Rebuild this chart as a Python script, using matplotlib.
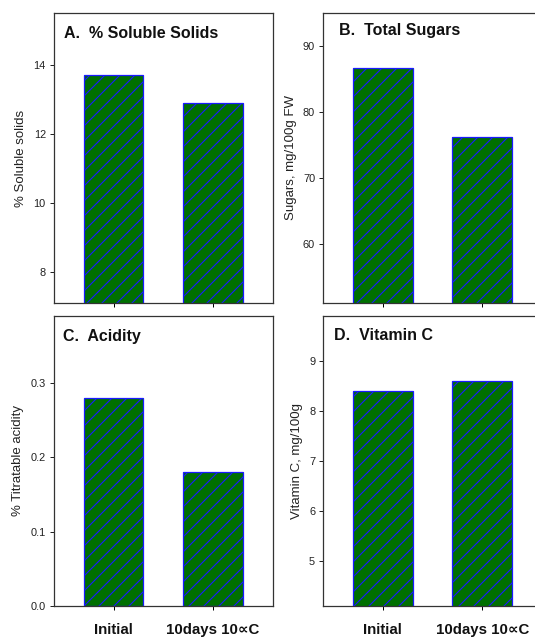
import matplotlib
matplotlib.use("Agg")
import matplotlib.pyplot as plt

plt.rcParams['font.family'] = ['Liberation Sans', 'DejaVu Sans']
plt.rcParams['hatch.linewidth'] = 0.9

categories = ["Initial", "10days 10\u221dC"]
soluble_solids = [13.7, 12.9]
total_sugars = [86.6, 76.2]
acidity = [0.28, 0.18]
vitamin_c = [8.4, 8.6]

panels = [
    dict(vals=soluble_solids, title="A.  % Soluble Solids", ylabel="% Soluble solids",
         ylim=(7.1, 15.5), yticks=[8, 10, 12, 14], fmt="{:g}",
         rect=(54, 13, 272.5, 303), title_pos=(64, 33), show_x=False),
    dict(vals=total_sugars, title="B.  Total Sugars", ylabel="Sugars, mg/100g FW",
         ylim=(51, 95), yticks=[60, 70, 80, 90], fmt="{:g}",
         rect=(323.3, 13, 541.8, 303), title_pos=(339, 30), show_x=False),
    dict(vals=acidity, title="C.  Acidity", ylabel="% Titratable acidity",
         ylim=(0, 0.39), yticks=[0.0, 0.1, 0.2, 0.3], fmt="{:.1f}",
         rect=(54, 315.7, 272.5, 606), title_pos=(63, 336.5), show_x=True),
    dict(vals=vitamin_c, title="D.  Vitamin C", ylabel="Vitamin C, mg/100g",
         ylim=(4.1, 9.9), yticks=[5, 6, 7, 8, 9], fmt="{:g}",
         rect=(323.3, 315.7, 541.8, 606), title_pos=(334, 336), show_x=True),
]

W, H = 535, 639
DPI = 90
fig = plt.figure(figsize=(W / DPI, H / DPI), dpi=DPI)

for p in panels:
    x0, y0, x1, y1 = p["rect"]
    ax = fig.add_axes([x0 / W, 1 - y1 / H, (x1 - x0) / W, (y1 - y0) / H])
    ax.bar(range(len(categories)), p["vals"], width=0.6, color="#007000",
           edgecolor="#1a1aff", linewidth=1.0, hatch="//", zorder=2)
    ax.set_xlim(-0.6, 1.6)
    ax.set_ylim(*p["ylim"])
    ax.set_yticks(p["yticks"])
    ax.set_yticklabels([p["fmt"].format(v) for v in p["yticks"]])
    ax.set_xticks(range(len(categories)))
    if p["show_x"]:
        ax.set_xticklabels(categories, fontweight="bold", fontsize=12)
    else:
        ax.set_xticklabels([])
    ax.tick_params(axis="x", direction="out", length=3.5, width=0.8, pad=10)
    ax.tick_params(axis="y", direction="out", length=3.5, width=0.8, pad=3,
                   labelsize=8.8, colors="#222222")
    ax.tick_params(axis="x", labelcolor="#111111")
    ax.set_ylabel(p["ylabel"], fontsize=10.6, color="#222222", labelpad=5)
    for s in ax.spines.values():
        s.set_linewidth(1.0)
        s.set_color("#333333")
    tx, ty = p["title_pos"]
    fig.text(tx / W, 1 - ty / H, p["title"], fontsize=12.8, fontweight="bold",
             va="center", ha="left", color="#111111")

fig.savefig("out.png", dpi=DPI)
